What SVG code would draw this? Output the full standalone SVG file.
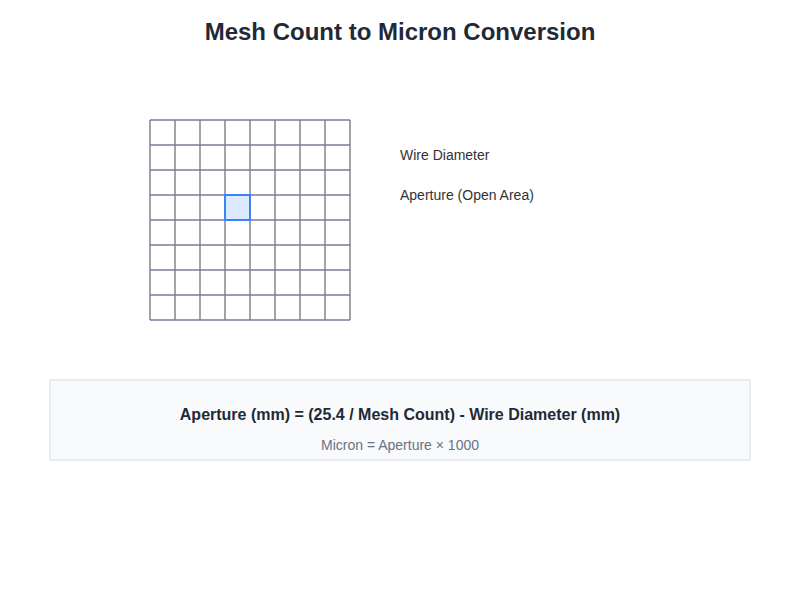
<svg xmlns="http://www.w3.org/2000/svg" width="800" height="600" viewBox="0 0 800 600">
<style>
text{font-family:"Liberation Sans",Arial,sans-serif}
.title{font-size:24px;font-weight:bold;fill:#1f2937}
.vl{stroke:#85858f;stroke-width:1.5}
.hl{stroke:#7a7a9c;stroke-width:1.5}
.leg{font-size:14px;fill:#333}
</style>
<rect width="800" height="600" fill="#fff"/>
<text class="title" x="400" y="40" text-anchor="middle">Mesh Count to Micron Conversion</text>
<g id="mesh">
<g id="vertical">
<line class="vl" x1="150" y1="120" x2="150" y2="320"/>
<line class="vl" x1="175" y1="120" x2="175" y2="320"/>
<line class="vl" x1="200" y1="120" x2="200" y2="320"/>
<line class="vl" x1="225" y1="120" x2="225" y2="320"/>
<line class="vl" x1="250" y1="120" x2="250" y2="320"/>
<line class="vl" x1="275" y1="120" x2="275" y2="320"/>
<line class="vl" x1="300" y1="120" x2="300" y2="320"/>
<line class="vl" x1="325" y1="120" x2="325" y2="320"/>
<line class="vl" x1="350" y1="120" x2="350" y2="320"/>
</g>
<g id="horizontal">
<line class="hl" x1="150" y1="120" x2="350" y2="120"/>
<line class="hl" x1="150" y1="145" x2="350" y2="145"/>
<line class="hl" x1="150" y1="170" x2="350" y2="170"/>
<line class="hl" x1="150" y1="195" x2="350" y2="195"/>
<line class="hl" x1="150" y1="220" x2="350" y2="220"/>
<line class="hl" x1="150" y1="245" x2="350" y2="245"/>
<line class="hl" x1="150" y1="270" x2="350" y2="270"/>
<line class="hl" x1="150" y1="295" x2="350" y2="295"/>
<line class="hl" x1="150" y1="320" x2="350" y2="320"/>
</g>
<rect id="aperture" x="225" y="195" width="25" height="25" fill="#dbeafe" stroke="#3b82f6" stroke-width="2"/>
</g>
<g id="legend">
<text class="leg" x="400" y="160">Wire Diameter</text>
<text class="leg" x="400" y="200">Aperture (Open Area)</text>
</g>
<g id="formula">
<rect x="50" y="380" width="700" height="80" fill="#f8fafc" stroke="#e2e8f0" stroke-width="1.5"/>
<text x="400" y="420" text-anchor="middle" font-size="16" font-weight="bold" fill="#1f2937">Aperture (mm) = (25.4 / Mesh Count) - Wire Diameter (mm)</text>
<text x="400" y="450" text-anchor="middle" font-size="14" fill="#6b7280">Micron = Aperture × 1000</text>
</g>
</svg>
